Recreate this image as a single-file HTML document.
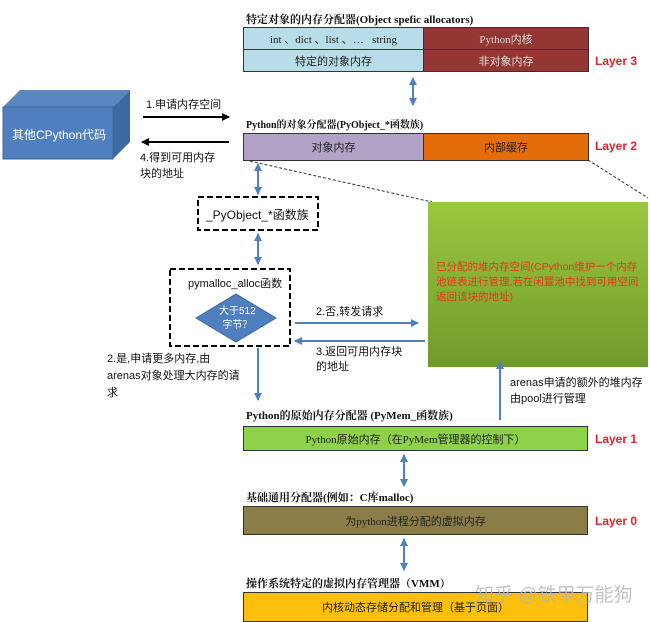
<!DOCTYPE html>
<html><head><meta charset="utf-8"><style>
body{margin:0;width:650px;height:621px;background:#fff;position:relative;overflow:hidden;font-family:"Liberation Sans","Noto Sans CJK SC",sans-serif;}
.t{position:absolute;white-space:nowrap;font-size:11px;color:#111;}
.b{font-weight:bold;font-family:"Liberation Serif","Noto Serif CJK SC",serif;font-size:11px;}
.box{position:absolute;border:1px solid #333;box-sizing:border-box;display:flex;align-items:center;justify-content:center;font-size:11px;color:#222;font-family:"Liberation Serif","Noto Sans CJK SC",serif;}
.L{position:absolute;color:#d9262a;font-weight:bold;font-size:12px;}
svg{position:absolute;left:0;top:0;}
</style></head><body>
<svg width="650" height="621">
<defs>
<linearGradient id="g" x1="0" y1="0" x2="0" y2="1"><stop offset="0" stop-color="#9bc840"/><stop offset="1" stop-color="#6f9a2a"/></linearGradient>
<marker id="a" markerUnits="userSpaceOnUse" markerWidth="10" markerHeight="10" refX="7" refY="4" orient="auto-start-reverse"><path d="M0,0 L8,4 L0,8z" fill="#4f81bd"/></marker>
<marker id="k" markerUnits="userSpaceOnUse" markerWidth="10" markerHeight="10" refX="7" refY="4" orient="auto"><path d="M0,0 L8,4 L0,8z" fill="#000"/></marker>
</defs>
<polygon points="3,107 20,90 130,90 113,107" fill="#5a86c2"/>
<polygon points="113,107 130,90 130,142 113,159" fill="#3e6aa3"/>
<rect x="3" y="107" width="110" height="52" fill="#4f7fbf" stroke="#3b679e"/>
<line x1="143" y1="117" x2="229" y2="117" stroke="#000" stroke-width="2" marker-end="url(#k)"/>
<line x1="229" y1="142" x2="142" y2="142" stroke="#000" stroke-width="2" marker-end="url(#k)"/>
<line x1="245" y1="160" x2="432" y2="202" stroke="#333" stroke-dasharray="3,2"/>
<line x1="588" y1="160" x2="648" y2="198" stroke="#333" stroke-dasharray="3,2"/>
<rect x="428" y="202" width="220" height="165" fill="url(#g)"/>
<g stroke="#4f81bd" stroke-width="2">
<line x1="413" y1="78" x2="413" y2="105" marker-start="url(#a)" marker-end="url(#a)"/>
<line x1="258" y1="164" x2="258" y2="194" marker-start="url(#a)" marker-end="url(#a)"/>
<line x1="258" y1="234" x2="258" y2="264" marker-start="url(#a)" marker-end="url(#a)"/>
<line x1="404" y1="455" x2="404" y2="486" marker-start="url(#a)" marker-end="url(#a)"/>
<line x1="404" y1="539" x2="404" y2="570" marker-start="url(#a)" marker-end="url(#a)"/>
<line x1="295" y1="323" x2="418" y2="323" marker-end="url(#a)"/>
<line x1="425" y1="341" x2="295" y2="341" marker-end="url(#a)"/>
<line x1="258" y1="348" x2="258" y2="400" marker-end="url(#a)"/>
<line x1="500" y1="420" x2="500" y2="362" marker-end="url(#a)"/>
</g>
<rect x="198" y="197" width="120" height="33" fill="none" stroke="#000" stroke-width="2" stroke-dasharray="6,3"/>
<rect x="170" y="269" width="120" height="77" fill="none" stroke="#000" stroke-width="2" stroke-dasharray="6,3"/>
<polygon points="196,318 236,294 276,318 236,342" fill="#4f7fbf" stroke="#3b679e"/>
</svg>
<div class="t" style="left:12px;top:126px;color:#fff;font-size:12px">其他CPython代码</div>
<div class="t" style="left:146px;top:96px">1.申请内存空间</div>
<div class="t" style="left:140px;top:150px;line-height:16px">4.得到可用内存<br>块的地址</div>
<div class="t b" style="left:246px;top:11px">特定对象的内存分配器(Object spefic allocators)</div>
<div class="box" style="left:243px;top:27px;width:181px;height:23px;background:#b8dde8">int 、dict 、list 、…&nbsp;&nbsp; string</div>
<div class="box" style="left:243px;top:49px;width:181px;height:23px;background:#b8dde8">特定的对象内存</div>
<div class="box" style="left:423px;top:27px;width:166px;height:23px;background:#943634;color:#ddd">Python内核</div>
<div class="box" style="left:423px;top:49px;width:166px;height:23px;background:#943634;color:#ddd">非对象内存</div>
<div class="L" style="left:595px;top:54px">Layer 3</div>
<div class="t b" style="left:246px;top:116px;font-size:10px">Python的对象分配器(PyObject_*函数族)</div>
<div class="box" style="left:243px;top:133px;width:181px;height:28px;background:#b3a2c7">对象内存</div>
<div class="box" style="left:423px;top:133px;width:166px;height:28px;background:#e46c0a">内部缓存</div>
<div class="L" style="left:595px;top:139px">Layer 2</div>
<div class="t" style="left:206px;top:206px;font-size:12px">_PyObject_*函数族</div>
<div class="t" style="left:188px;top:275px;font-size:11px">pymalloc_alloc函数</div>
<div class="t" style="left:219px;top:305px;color:#fff;font-size:10px;text-align:center;line-height:14px">大于512<br>字节？</div>
<div class="t" style="left:316px;top:303px">2.否,转发请求</div>
<div class="t" style="left:316px;top:345px;line-height:15px">3.返回可用内存块<br>的地址</div>
<div class="t" style="left:107px;top:351px;line-height:17px">2.是,申请更多内存,由<br>arenas对象处理大内存的请<br>求</div>
<div class="t" style="left:436px;top:260px;color:#e8361c;font-size:10.5px;line-height:15px;white-space:normal;width:210px">已分配的堆内存空间(CPython维护一个内存池链表进行管理,若在闲置池中找到可用空间返回该块的地址)</div>
<div class="t" style="left:510px;top:375px;line-height:16px">arenas申请的额外的堆内存<br>由pool进行管理</div>
<div class="t b" style="left:246px;top:407px">Python的原始内存分配器 (PyMem_函数族)</div>
<div class="box" style="left:243px;top:426px;width:345px;height:25px;background:#8ed24a">Python原始内存（在PyMem管理器的控制下）</div>
<div class="L" style="left:595px;top:432px">Layer 1</div>
<div class="t b" style="left:246px;top:489px">基础通用分配器(例如：C库malloc)</div>
<div class="box" style="left:243px;top:506px;width:345px;height:29px;background:#8b7d47">为python进程分配的虚拟内存</div>
<div class="L" style="left:595px;top:514px">Layer 0</div>
<div class="t b" style="left:246px;top:575px">操作系统特定的虚拟内存管理器（VMM）</div>
<div class="box" style="left:243px;top:592px;width:345px;height:30px;background:#fbbf0c">内核动态存储分配和管理（基于页面）</div>
<div class="t" style="left:475px;top:580px;font-size:19px;color:rgba(180,180,180,0.8)">知乎 @铁甲万能狗</div>
</body></html>
